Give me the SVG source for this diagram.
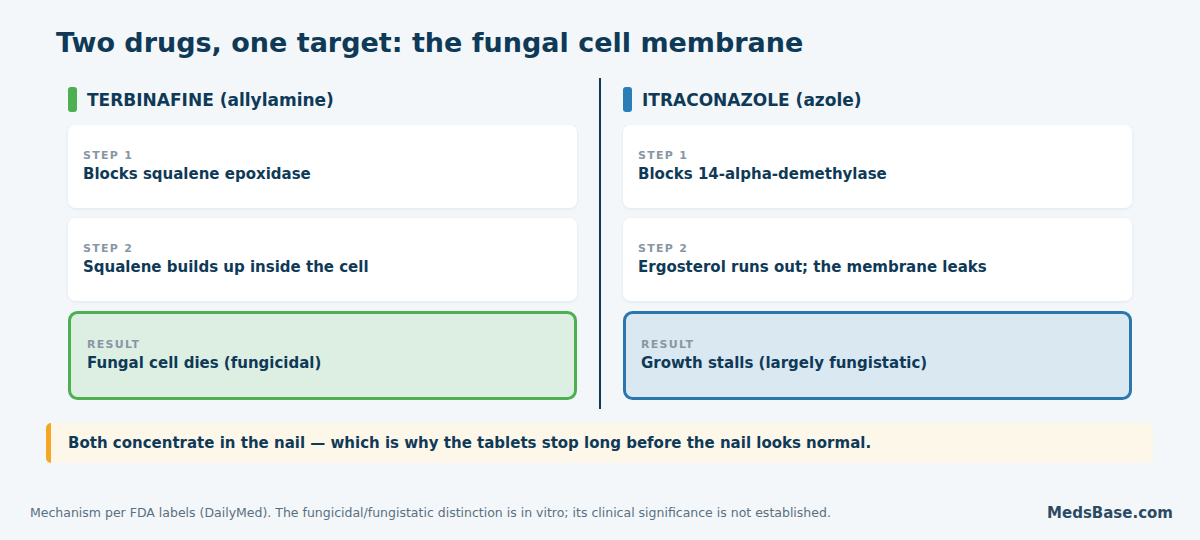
<svg xmlns="http://www.w3.org/2000/svg" width="1200" height="540" viewBox="0 0 1200 540">
<defs>
<filter id="sh" x="-5%" y="-20%" width="110%" height="140%">
<feDropShadow dx="0" dy="1" stdDeviation="1.5" flood-color="#0f3a57" flood-opacity="0.08"/>
</filter>
</defs>
<style>
text{font-family:"DejaVu Sans","Noto Sans",sans-serif;}
.title{font-size:27px;font-weight:bold;fill:#0f3a57;}
.head{font-size:17px;font-weight:bold;fill:#0f3a57;}
.lab{font-size:11px;font-weight:bold;fill:#8896a4;letter-spacing:1.3px;}
.main{font-size:15px;font-weight:bold;fill:#0f3a57;}
.card{fill:#ffffff;filter:url(#sh);}
.note{font-size:15px;font-weight:bold;fill:#0f3a57;}
.foot{font-size:12.5px;fill:#5a6f80;}
.brand{font-size:15px;font-weight:bold;fill:#2c4a63;}
</style>
<rect width="1200" height="540" fill="#f3f7fa"/>
<text class="title" x="56" y="52">Two drugs, one target: the fungal cell membrane</text>

<g id="divider"><line x1="600" y1="78" x2="600" y2="409" stroke="#0f3a57" stroke-width="2"/></g>

<g id="terbinafine-header">
<rect x="68" y="87" width="9" height="25" rx="3" fill="#4caf50"/>
<text class="head" x="87" y="106">TERBINAFINE (allylamine)</text>
</g>
<g id="terb-step1">
<rect class="card" x="68" y="125" width="509" height="83" rx="8"/>
<text class="lab" x="83" y="159">STEP 1</text>
<text class="main" x="83" y="179">Blocks squalene epoxidase</text>
</g>
<g id="terb-step2">
<rect class="card" x="68" y="218" width="509" height="83" rx="8"/>
<text class="lab" x="83" y="252">STEP 2</text>
<text class="main" x="83" y="272">Squalene builds up inside the cell</text>
</g>
<g id="terb-result">
<rect x="69.5" y="312.5" width="506" height="86" rx="8" fill="#ddefe3" stroke="#4caf50" stroke-width="3"/>
<text class="lab" x="87" y="348">RESULT</text>
<text class="main" x="87" y="368">Fungal cell dies (fungicidal)</text>
</g>

<g id="itraconazole-header">
<rect x="623" y="87" width="9" height="25" rx="3" fill="#2a7db5"/>
<text class="head" x="642" y="106">ITRACONAZOLE (azole)</text>
</g>
<g id="itra-step1">
<rect class="card" x="623" y="125" width="509" height="83" rx="8"/>
<text class="lab" x="638" y="159">STEP 1</text>
<text class="main" x="638" y="179">Blocks 14-alpha-demethylase</text>
</g>
<g id="itra-step2">
<rect class="card" x="623" y="218" width="509" height="83" rx="8"/>
<text class="lab" x="638" y="252">STEP 2</text>
<text class="main" x="638" y="272">Ergosterol runs out; the membrane leaks</text>
</g>
<g id="itra-result">
<rect x="624.5" y="312.5" width="506" height="86" rx="8" fill="#dae8f2" stroke="#2a77ad" stroke-width="3"/>
<text class="lab" x="641" y="348">RESULT</text>
<text class="main" x="641" y="368">Growth stalls (largely fungistatic)</text>
</g>

<g id="callout">
<rect x="46" y="423" width="1107" height="40" rx="5" fill="#fdf7ea"/>
<path d="M51,423 L51,463 A5,5 0 0 1 46,458 L46,428 A5,5 0 0 1 51,423 Z" fill="#f5a623"/>
<text class="note" x="68" y="448">Both concentrate in the nail — which is why the tablets stop long before the nail looks normal.</text>
</g>

<g id="footer">
<text class="foot" x="30" y="517">Mechanism per FDA labels (DailyMed). The fungicidal/fungistatic distinction is in vitro; its clinical significance is not established.</text>
<text class="brand" x="1173" y="518" text-anchor="end">MedsBase.com</text>
</g>
</svg>
